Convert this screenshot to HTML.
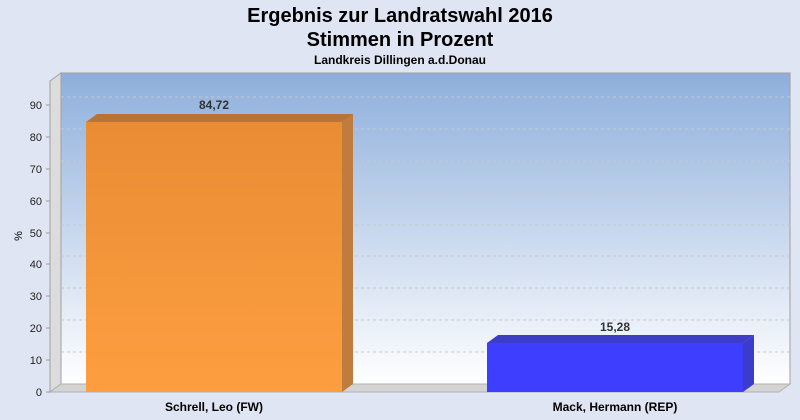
<!DOCTYPE html>
<html><head><style>body{margin:0;background:#dfe5f3}svg{display:block}</style></head><body>
<svg width="800" height="420" xmlns="http://www.w3.org/2000/svg" font-family="Liberation Sans, sans-serif">
<defs>
<linearGradient id="bg" x1="0" y1="0" x2="0" y2="1"><stop offset="0" stop-color="#8eafdc"/><stop offset="1" stop-color="#ffffff"/></linearGradient>
<linearGradient id="or" x1="0" y1="0" x2="0" y2="1"><stop offset="0" stop-color="#e98c34"/><stop offset="1" stop-color="#fd9f40"/></linearGradient>
</defs>
<rect width="800" height="420" fill="#dfe5f3"/>
<text x="400" y="22" text-anchor="middle" font-size="20" font-weight="bold">Ergebnis zur Landratswahl 2016</text>
<text x="400" y="46" text-anchor="middle" font-size="20" font-weight="bold">Stimmen in Prozent</text>
<text x="400" y="64" text-anchor="middle" font-size="12" font-weight="bold">Landkreis Dillingen a.d.Donau</text>
<rect x="61" y="73" width="729" height="311" fill="url(#bg)" stroke="#a0a0a0"/>
<polygon points="50,81 61,73 61,384 50,392" fill="#dcdcdc" stroke="#a0a0a0"/>
<polygon points="50,392 61,384 790,384 779,392" fill="#d4d4d4" stroke="#b0b0b0"/>
<g stroke="#c8c8c8" stroke-dasharray="3,3">
<line x1="61" y1="352" x2="790" y2="352"/><line x1="61" y1="320" x2="790" y2="320"/><line x1="61" y1="288" x2="790" y2="288"/><line x1="61" y1="256" x2="790" y2="256"/><line x1="61" y1="225" x2="790" y2="225"/><line x1="61" y1="193" x2="790" y2="193"/><line x1="61" y1="161" x2="790" y2="161"/><line x1="61" y1="129" x2="790" y2="129"/><line x1="61" y1="97" x2="790" y2="97"/>
</g>
<line x1="50" y1="81" x2="50" y2="392" stroke="#a0a0a0"/>
<g font-size="11" text-anchor="end" fill="#222">
<text x="42" y="396">0</text><text x="42" y="364">10</text><text x="42" y="332">20</text><text x="42" y="300">30</text><text x="42" y="268">40</text><text x="42" y="237">50</text><text x="42" y="205">60</text><text x="42" y="173">70</text><text x="42" y="141">80</text><text x="42" y="109">90</text>
</g>
<g stroke="#a0a0a0"><line x1="46" y1="392" x2="50" y2="392"/><line x1="46" y1="360" x2="50" y2="360"/><line x1="46" y1="328" x2="50" y2="328"/><line x1="46" y1="296" x2="50" y2="296"/><line x1="46" y1="264" x2="50" y2="264"/><line x1="46" y1="233" x2="50" y2="233"/><line x1="46" y1="201" x2="50" y2="201"/><line x1="46" y1="169" x2="50" y2="169"/><line x1="46" y1="137" x2="50" y2="137"/><line x1="46" y1="105" x2="50" y2="105"/></g>
<text x="22" y="236" font-size="11" transform="rotate(-90 22 236)" text-anchor="middle">%</text>
<rect x="86" y="122" width="256" height="270" fill="url(#or)"/>
<polygon points="86,122 97,114 353,114 342,122" fill="#b87436"/>
<polygon points="342,122 353,114 353,384 342,392" fill="#c07c3c"/>
<text x="214" y="109" text-anchor="middle" font-size="12" font-weight="bold" fill="#333">84,72</text>
<rect x="487" y="343" width="256" height="49" fill="#3e3eff"/>
<polygon points="487,343 498,335 754,335 743,343" fill="#3d3dc8"/>
<polygon points="743,343 754,335 754,384 743,392" fill="#3c3ccc"/>
<text x="615" y="331" text-anchor="middle" font-size="12" font-weight="bold" fill="#333">15,28</text>
<text x="214" y="411" text-anchor="middle" font-size="12" font-weight="bold">Schrell, Leo (FW)</text>
<text x="615" y="411" text-anchor="middle" font-size="12" font-weight="bold">Mack, Hermann (REP)</text>
</svg>
</body></html>
